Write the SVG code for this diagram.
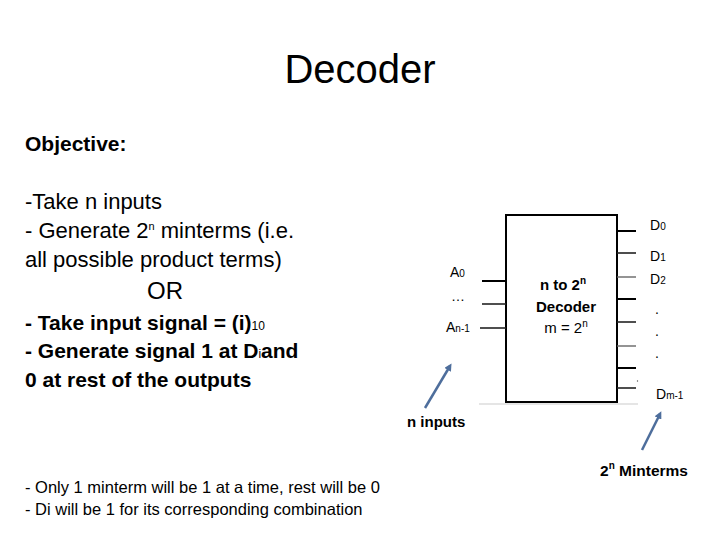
<svg xmlns="http://www.w3.org/2000/svg" width="720" height="540" viewBox="0 0 720 540">
<defs>
<style>
text{font-family:"Liberation Sans",Arial,sans-serif;fill:#000}
.b{font-weight:bold}
.body{font-size:21px}
.nb{font-size:22px}
.small{font-size:14px}
.note{font-size:16.5px}
.wire{stroke:#000;stroke-width:2}
.wt{stroke:#222;stroke-width:1.6}
.wg{stroke:#666;stroke-width:1.4}
.arr{stroke:#4E6E9C;stroke-width:2.5;fill:none;marker-end:url(#ah)}
</style>
<marker id="ah" viewBox="0 0 10 10" refX="6" refY="5" markerWidth="3" markerHeight="3" orient="auto">
<path d="M0,0 L10,5 L0,10 z" fill="#4E6E9C"/>
</marker>
</defs>
<rect width="720" height="540" fill="#fff"/>
<text x="360" y="83" font-size="40" text-anchor="middle">Decoder</text>
<text x="25" y="151" class="b body">Objective:</text>
<g id="desc" class="body">
<text x="25" y="209" class="nb">-Take n inputs</text>
<text x="25" y="238" class="nb">- Generate 2<tspan font-size="11" dy="-8">n</tspan><tspan dy="8"> minterms (i.e.</tspan></text>
<text x="25" y="267" class="nb">all possible product terms)</text>
<text x="165" y="299" font-size="24" text-anchor="middle">OR</text>
<text x="25" y="330" class="b">- Take input signal = (i)<tspan font-size="12" font-weight="normal">10</tspan></text>
<text x="25" y="358" class="b">- Generate signal 1 at D<tspan font-size="12" font-weight="normal">i</tspan>and</text>
<text x="25" y="387" class="b">0 at rest of the outputs</text>
</g>
<g id="notes" class="note">
<text x="25" y="493">- Only 1 minterm will be 1 at a time, rest will be 0</text>
<text x="25" y="515">- Di will be 1 for its corresponding combination</text>
</g>
<g id="decoder">
<line x1="479" y1="404" x2="638" y2="404" stroke="#ddd" stroke-width="1.5"/>
<rect x="506" y="215" width="111" height="187" fill="#fff" stroke="#000" stroke-width="2"/>
<text x="563" y="290" font-size="15" class="b" text-anchor="middle">n to 2<tspan font-size="10" dy="-6">n</tspan></text>
<text x="566" y="312" font-size="15" class="b" text-anchor="middle">Decoder</text>
<text x="566" y="333" font-size="15" text-anchor="middle">m = 2<tspan font-size="10" dy="-6">n</tspan></text>
</g>
<g id="inputs">
<line class="wire" x1="482" y1="281" x2="506" y2="281"/>
<line class="wt" x1="482" y1="304" x2="506" y2="304"/>
<line class="wt" x1="480" y1="328" x2="506" y2="328"/>
<text x="450" y="277" class="small">A<tspan font-size="10">0</tspan></text>
<text x="451" y="301" class="small">…</text>
<text x="446" y="332" class="small">A<tspan font-size="10">n-1</tspan></text>
</g>
<g id="outputs">
<line class="wire" x1="617" y1="231" x2="636" y2="231"/>
<line class="wt" x1="617" y1="253" x2="636" y2="253"/>
<line class="wg" x1="617" y1="277" x2="636" y2="277"/>
<line class="wire" x1="617" y1="299" x2="636" y2="299"/>
<line class="wt" x1="617" y1="322" x2="636" y2="322"/>
<line class="wg" x1="617" y1="346" x2="636" y2="346"/>
<line class="wire" x1="617" y1="368" x2="636" y2="368"/>
<line class="wt" x1="617" y1="388" x2="636" y2="388"/>
<circle cx="637.5" cy="381" r="0.7" fill="#555"/>
<text x="650" y="230" class="small">D<tspan font-size="10">0</tspan></text>
<text x="650" y="261" class="small">D<tspan font-size="10">1</tspan></text>
<text x="650" y="284" class="small">D<tspan font-size="10">2</tspan></text>
<text x="655" y="314" class="small">.</text>
<text x="655" y="336" class="small">.</text>
<text x="655" y="358" class="small">.</text>
<text x="656" y="399" class="small">D<tspan font-size="10">m-1</tspan></text>
</g>
<g id="connectors">
<line class="arr" x1="425" y1="408" x2="450" y2="366"/>
<line class="arr" x1="642" y1="450" x2="660" y2="414"/>
</g>
<text x="407" y="427" font-size="15" class="b">n inputs</text>
<text x="600" y="476" font-size="15.5" class="b">2<tspan font-size="10" dy="-7">n</tspan><tspan dy="7"> Minterms</tspan></text>
</svg>
